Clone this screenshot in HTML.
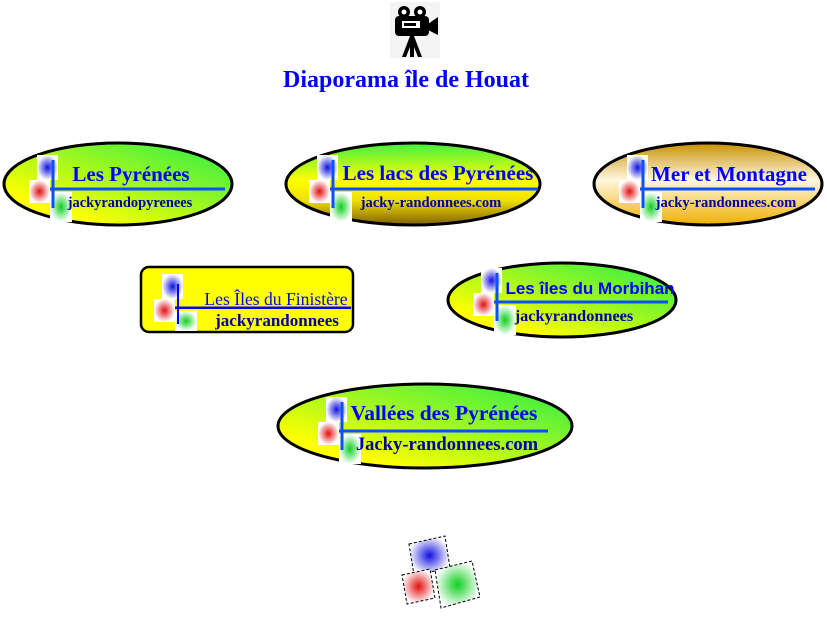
<!DOCTYPE html>
<html><head><meta charset="utf-8"><style>
body{margin:0;background:#fff;}
svg{display:block;font-family:"Liberation Serif",serif;font-weight:bold;}
</style></head><body>
<svg width="827" height="618" viewBox="0 0 827 618" xmlns="http://www.w3.org/2000/svg">
<defs>
<radialGradient id="gb"><stop offset="0" stop-color="#1010e0"/><stop offset="1" stop-color="#fff"/></radialGradient>
<radialGradient id="gr"><stop offset="0" stop-color="#e01010"/><stop offset="1" stop-color="#fff"/></radialGradient>
<radialGradient id="gg"><stop offset="0" stop-color="#10d020"/><stop offset="1" stop-color="#fff"/></radialGradient>
<linearGradient id="yg" x1="0" y1="1" x2="1" y2="0"><stop offset="0.2" stop-color="#ffff00"/><stop offset="0.9" stop-color="#40f040"/></linearGradient>
<linearGradient id="vg" x1="0" y1="0" x2="0" y2="1"><stop offset="0" stop-color="#40f040"/><stop offset="0.45" stop-color="#ffff00"/><stop offset="0.7" stop-color="#f0e000"/><stop offset="1" stop-color="#806000"/></linearGradient>
<linearGradient id="og" x1="0" y1="0" x2="0" y2="1"><stop offset="0" stop-color="#c89000"/><stop offset="0.45" stop-color="#fff8e0"/><stop offset="1" stop-color="#f0b000"/></linearGradient>
<g id="logo">
<rect x="-16" y="-34" width="21" height="25" fill="url(#gb)"/>
<rect x="-24" y="-9" width="21" height="23" fill="url(#gr)"/>
<rect x="-3" y="3" width="22" height="30" fill="url(#gg)"/>
<rect x="-1.5" y="-29" width="3" height="48" fill="#0a50ff"/>
</g>
</defs>

<g transform="translate(390,2)">
<rect x="0" y="0" width="50" height="56" fill="#f4f4f4"/>
<circle cx="14" cy="10" r="6" fill="#000"/><circle cx="14" cy="10" r="2.5" fill="#fff"/>
<circle cx="30" cy="10" r="6" fill="#000"/><circle cx="30" cy="10" r="2.5" fill="#fff"/>
<rect x="5" y="14" width="34" height="20" rx="4" fill="#000"/>
<rect x="12" y="19" width="18" height="7" fill="#fff"/><rect x="14" y="21" width="12" height="3" fill="#000"/>
<polygon points="38,22 48,15 48,33 38,28" fill="#000"/>
<polygon points="20,34 24,34 32,55 28,55 22,40 16,55 12,55" fill="#000"/>
<rect x="20" y="34" width="4" height="21" fill="#000"/>
</g>
<text x="406" y="87" text-anchor="middle" font-size="24" fill="#0000ff">Diaporama île de Houat</text>

<ellipse cx="118" cy="184" rx="114" ry="41" fill="url(#yg)" stroke="#000" stroke-width="3"/>
<rect x="35" y="187.5" width="190" height="3" fill="#0a50ff"/>
<use href="#logo" x="53" y="189"/>
<text x="131" y="181" text-anchor="middle" font-size="21" fill="#0000ff">Les Pyrénées</text>
<text x="130" y="207" text-anchor="middle" font-size="14.4" fill="#0000a0">jackyrandopyrenees</text>

<ellipse cx="413" cy="184" rx="127" ry="41" fill="url(#vg)" stroke="#000" stroke-width="3"/>
<rect x="315" y="187.5" width="223" height="3" fill="#0a50ff"/>
<use href="#logo" x="333" y="189"/>
<text x="438" y="180" text-anchor="middle" font-size="21" fill="#0000ff">Les lacs des Pyrénées</text>
<text x="431" y="207" text-anchor="middle" font-size="14.6" fill="#0000a0">jacky-randonnees.com</text>

<ellipse cx="708" cy="184" rx="114" ry="41" fill="url(#og)" stroke="#000" stroke-width="3"/>
<rect x="625" y="187.5" width="190" height="3" fill="#0a50ff"/>
<use href="#logo" x="643" y="189"/>
<text x="729" y="181" text-anchor="middle" font-size="21" fill="#0000ff">Mer et Montagne</text>
<text x="726" y="207" text-anchor="middle" font-size="14.6" fill="#0000a0">jacky-randonnees.com</text>

<rect x="141" y="267" width="212" height="65" rx="8" fill="#ffff00" stroke="#000" stroke-width="2.5"/>
<rect x="163" y="306.5" width="188" height="2.5" fill="#0000ff"/>
<g transform="translate(178,308)">
<rect x="-16" y="-34" width="21" height="25" fill="url(#gb)"/>
<rect x="-24" y="-9" width="21" height="23" fill="url(#gr)"/>
<rect x="-3" y="3" width="22" height="20" fill="url(#gg)"/>
<rect x="-1" y="-24" width="2" height="40" fill="#0000ff"/>
</g>
<text x="276" y="305" text-anchor="middle" font-size="17.6" fill="#0000ff" font-weight="normal">Les Îles du Finistère</text>
<text x="277" y="326" text-anchor="middle" font-size="17" fill="#0000a0">jackyrandonnees</text>

<ellipse cx="562" cy="300" rx="114" ry="37" fill="url(#yg)" stroke="#000" stroke-width="3"/>
<rect x="478" y="300.5" width="190" height="3" fill="#0a50ff"/>
<use href="#logo" x="497" y="302"/>
<text x="590" y="294" text-anchor="middle" font-size="17" fill="#0000ff" font-family="Liberation Sans, sans-serif">Les îles du Morbihan</text>
<text x="574" y="321" text-anchor="middle" font-size="16.3" fill="#0000a0">jackyrandonnees</text>

<ellipse cx="425" cy="426" rx="147" ry="42" fill="url(#yg)" stroke="#000" stroke-width="3"/>
<rect x="323" y="429.5" width="225" height="3" fill="#0a50ff"/>
<use href="#logo" x="342" y="431"/>
<text x="444" y="420" text-anchor="middle" font-size="21.5" fill="#0000ff">Vallées des Pyrénées</text>
<text x="447" y="450" text-anchor="middle" font-size="18.6" fill="#0000a0">Jacky-randonnees.com</text>

<g stroke="#000" stroke-width="1" stroke-dasharray="3,2">
<polygon points="409,544 445,536 450,568 414,575" fill="url(#gb)"/>
<polygon points="402,575 430,569 435,598 407,604" fill="url(#gr)"/>
<polygon points="435,570 472,561 480,597 441,608" fill="url(#gg)"/>
</g>
</svg>
</body></html>
